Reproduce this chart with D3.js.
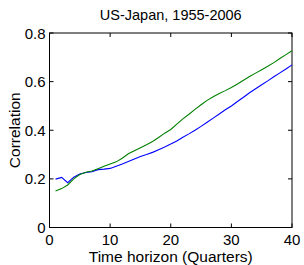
<!DOCTYPE html>
<html>
<head>
<meta charset="utf-8">
<script src="https://cdn.jsdelivr.net/npm/d3@7"></script>
<style>
  body { margin: 0; background: #fff; }
  text { font-family: "Liberation Sans", Arial, sans-serif; fill: #000; }
</style>
</head>
<body>
<div id="chart"></div>
<script>
const svgWidth = 304;
const svgHeight = 265;
const margin = { top: 33, right: 12, bottom: 37.5, left: 49.5 };
const width = svgWidth - margin.left - margin.right;
const height = svgHeight - margin.top - margin.bottom;

// Horizon (quarters)
const horizons = d3.range(1, 41);
// Blue series
const blueVals = [0.199, 0.206, 0.184, 0.207, 0.220, 0.226, 0.229, 0.238, 0.240, 0.243,
  0.252, 0.261, 0.271, 0.282, 0.292, 0.300, 0.309, 0.320, 0.331, 0.343,
  0.356, 0.371, 0.385, 0.400, 0.416, 0.433, 0.450, 0.467, 0.484, 0.500,
  0.518, 0.536, 0.554, 0.571, 0.587, 0.603, 0.620, 0.636, 0.652, 0.669];
// Green series
const greenVals = [0.150, 0.160, 0.175, 0.200, 0.218, 0.227, 0.232, 0.242, 0.252, 0.261,
  0.270, 0.285, 0.303, 0.316, 0.328, 0.340, 0.354, 0.370, 0.388, 0.403,
  0.425, 0.447, 0.466, 0.486, 0.505, 0.523, 0.538, 0.551, 0.563, 0.576,
  0.590, 0.606, 0.621, 0.635, 0.649, 0.663, 0.678, 0.695, 0.711, 0.727];
const xTicks = [0, 10, 20, 30, 40];
const yTicks = [0, 0.2, 0.4, 0.6, 0.8];

const svg = d3.select("#chart")
  .append("svg")
  .attr("width", svgWidth)
  .attr("height", svgHeight)
  .append("g")
  .attr("transform", `translate(${margin.left},${margin.top})`);

const x = d3.scaleLinear().domain([0, 40]).range([0, width]);
const y = d3.scaleLinear().domain([0, 0.8]).range([height, 0]);

// box
svg.append("rect")
  .attr("width", width).attr("height", height)
  .attr("fill", "none").attr("stroke", "#000").attr("stroke-width", 1);

// tick marks on all four sides, pointing inward
const tickLen = 4;
xTicks.forEach(t => {
  svg.append("line").attr("x1", x(t)).attr("x2", x(t)).attr("y1", height).attr("y2", height - tickLen).attr("stroke", "#000");
  svg.append("line").attr("x1", x(t)).attr("x2", x(t)).attr("y1", 0).attr("y2", tickLen).attr("stroke", "#000");
});
yTicks.forEach(t => {
  svg.append("line").attr("x1", 0).attr("x2", tickLen).attr("y1", y(t)).attr("y2", y(t)).attr("stroke", "#000");
  svg.append("line").attr("x1", width).attr("x2", width - tickLen).attr("y1", y(t)).attr("y2", y(t)).attr("stroke", "#000");
});

// tick labels
svg.selectAll(".xt").data(xTicks).enter().append("text")
  .attr("class", "xt")
  .attr("x", d => x(d)).attr("y", height + 17.5)
  .attr("text-anchor", "middle").attr("font-size", 15)
  .text(d => d);

svg.selectAll(".yt").data(yTicks).enter().append("text")
  .attr("class", "yt")
  .attr("x", -4).attr("y", d => y(d) + 5.5)
  .attr("text-anchor", "end").attr("font-size", 15)
  .text(d => d === 0 ? "0" : d.toFixed(1));

// lines
const line = vals => d3.line()
  .x((d, i) => x(horizons[i]))
  .y(d => y(d))(vals);

svg.append("path").attr("d", line(blueVals))
  .attr("fill", "none").attr("stroke", "#0000ff").attr("stroke-width", 1.1);
svg.append("path").attr("d", line(greenVals))
  .attr("fill", "none").attr("stroke", "#008000").attr("stroke-width", 1.1);

// title and axis labels
svg.append("text")
  .attr("x", width / 2).attr("y", -13)
  .attr("text-anchor", "middle").attr("font-size", 14.5)
  .text("US-Japan, 1955-2006");

svg.append("text")
  .attr("x", width / 2).attr("y", height + 34)
  .attr("text-anchor", "middle").attr("font-size", 15.5)
  .text("Time horizon (Quarters)");

svg.append("text")
  .attr("transform", `translate(${-29.5},${height / 2}) rotate(-90)`)
  .attr("text-anchor", "middle").attr("font-size", 15.5)
  .text("Correlation");
</script>
</body>
</html>
